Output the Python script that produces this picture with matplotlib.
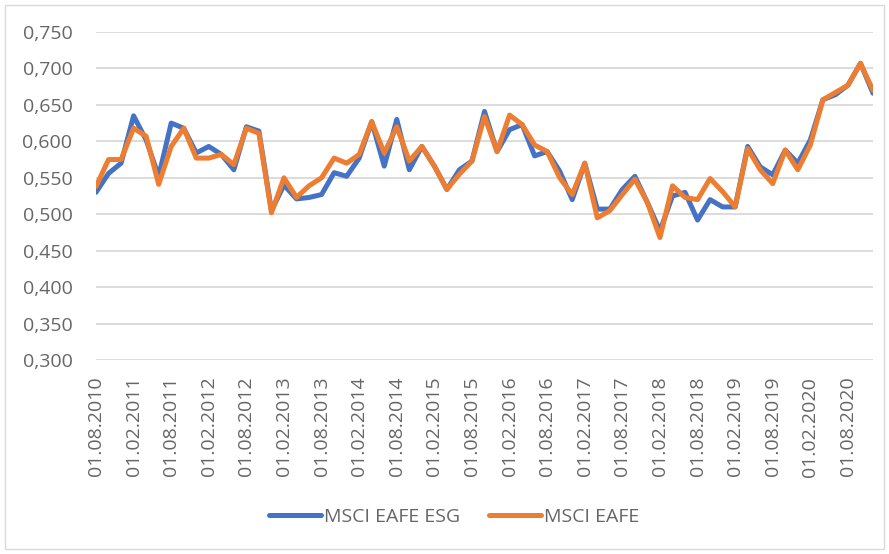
import matplotlib
matplotlib.use("Agg")
import matplotlib.pyplot as plt
from matplotlib.patches import Rectangle

plt.rcParams["font.family"] = ["Open Sans", "DejaVu Sans"]

# bimonthly observations, 01.08.2010 .. 01.12.2020
esg = [0.530, 0.556, 0.570, 0.635, 0.602, 0.552, 0.625, 0.618, 0.584, 0.593, 0.582, 0.561, 0.620, 0.614, 0.505, 0.540,
       0.521, 0.523, 0.527, 0.557, 0.552, 0.577, 0.627, 0.566, 0.630, 0.561, 0.593, 0.566, 0.534, 0.561, 0.573, 0.641,
       0.586, 0.616, 0.623, 0.580, 0.586, 0.559, 0.520, 0.570, 0.507, 0.507, 0.534, 0.552, 0.516, 0.477, 0.525, 0.530,
       0.492, 0.520, 0.510, 0.510, 0.593, 0.565, 0.554, 0.588, 0.570, 0.602, 0.657, 0.664, 0.677, 0.707, 0.666]

eafe = [0.538, 0.575, 0.575, 0.618, 0.607, 0.541, 0.593, 0.618, 0.577, 0.577, 0.582, 0.568, 0.618, 0.611, 0.502, 0.550,
        0.523, 0.539, 0.550, 0.577, 0.570, 0.582, 0.627, 0.584, 0.620, 0.573, 0.593, 0.566, 0.534, 0.555, 0.573, 0.634,
        0.586, 0.636, 0.623, 0.595, 0.586, 0.550, 0.527, 0.570, 0.495, 0.505, 0.527, 0.548, 0.516, 0.468, 0.539, 0.523,
        0.520, 0.549, 0.531, 0.510, 0.590, 0.561, 0.542, 0.588, 0.561, 0.595, 0.657, 0.667, 0.677, 0.707, 0.670]

tick_labels = ["01.08.2010", "01.02.2011", "01.08.2011", "01.02.2012", "01.08.2012", "01.02.2013",
               "01.08.2013", "01.02.2014", "01.08.2014", "01.02.2015", "01.08.2015", "01.02.2016",
               "01.08.2016", "01.02.2017", "01.08.2017", "01.02.2018", "01.08.2018", "01.02.2019",
               "01.08.2019", "01.02.2020", "01.08.2020"]

y_ticks = [0.30, 0.35, 0.40, 0.45, 0.50, 0.55, 0.60, 0.65, 0.70, 0.75]

W, H = 889, 554
fig = plt.figure(figsize=(W / 100, H / 100), dpi=100)
ax = fig.add_axes([96 / W, 1 - 360 / H, (873 - 96) / W, (360 - 32) / H])

x = list(range(len(esg)))
ax.plot(x, esg, color="#4472C4", lw=3.6, solid_capstyle="round", solid_joinstyle="round", label="MSCI EAFE ESG", zorder=3)
ax.plot(x, eafe, color="#ED7D31", lw=3.6, solid_capstyle="round", solid_joinstyle="round", label="MSCI EAFE", zorder=4)

ax.set_xlim(0, len(esg) - 1)
ax.set_ylim(0.30, 0.75)
ax.set_yticks(y_ticks)
ax.set_yticklabels([f"{v:.3f}".replace(".", ",") for v in y_ticks])
ax.set_xticks(range(0, len(esg), 3))
ax.set_xticklabels(tick_labels, rotation=90)

ax.grid(axis="y", color="#d9d9d9", lw=1.3)
ax.set_axisbelow(True)
for s in ax.spines.values():
    s.set_visible(False)
ax.tick_params(axis="both", length=0, colors="#666666", labelsize=14)
ax.tick_params(axis="y", pad=17)
ax.tick_params(axis="x", pad=12)

leg = fig.legend(loc="center", bbox_to_anchor=(454 / W, 1 - 517 / H), ncol=2, frameon=False,
                 fontsize=14, handlelength=2.7, handletextpad=0.15, columnspacing=1.45)
for t in leg.get_texts():
    t.set_color("#666666")

fig.patches.append(Rectangle((5 / W, 5 / H), (884 - 5) / W, (549 - 5) / H, transform=fig.transFigure,
                             fill=False, edgecolor="#d9d9d9", lw=1))

fig.savefig("out.png", dpi=100)
